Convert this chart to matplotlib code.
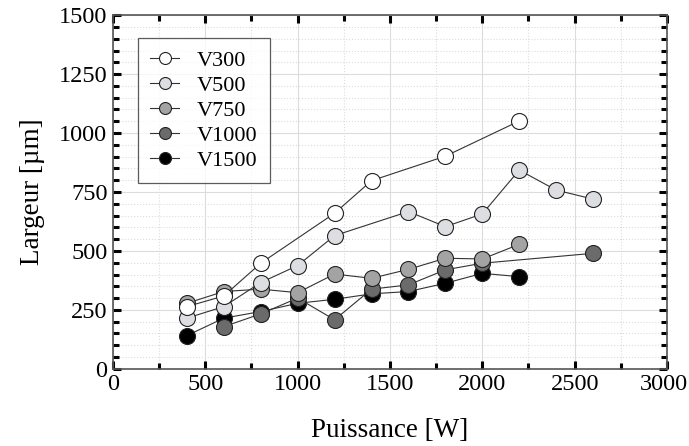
import matplotlib
matplotlib.use("Agg")
import matplotlib.pyplot as plt
from matplotlib.ticker import MultipleLocator, FuncFormatter

plt.rcParams['font.family'] = ['Liberation Serif', 'DejaVu Serif']

# Data
v300_x = [400, 600, 800, 1200, 1400, 1800, 2200]
v300_y = [264, 309, 448, 660, 798, 902, 1051]

v500_x = [400, 600, 800, 1000, 1200, 1600, 1800, 2000, 2200, 2400, 2600]
v500_y = [215, 264, 366, 438, 565, 667, 603, 657, 843, 758, 720]

v750_x = [400, 600, 800, 1000, 1200, 1400, 1600, 1800, 2000, 2200]
v750_y = [278, 328, 338, 323, 402, 384, 422, 469, 466, 528]

v1000_x = [600, 800, 1000, 1200, 1400, 1600, 1800, 2000, 2600]
v1000_y = [179, 233, 300, 208, 338, 356, 420, 448, 490]

v1500_x = [400, 600, 800, 1000, 1200, 1400, 1600, 1800, 2000, 2200]
v1500_y = [141, 215, 243, 278, 295, 318, 328, 363, 405, 391]

labels = ["V300", "V500", "V750", "V1000", "V1500"]
colors = ["#ffffff", "#dcdee2", "#a3a3a3", "#6b6b6b", "#000000"]
x_max = 3000

fig = plt.figure(figsize=(6.89, 4.46), dpi=100)
ax = fig.add_axes([0.164, 0.173, 0.804, 0.793])

series = [(v300_x, v300_y), (v500_x, v500_y), (v750_x, v750_y),
          (v1000_x, v1000_y), (v1500_x, v1500_y)]
zorders = [7, 6, 5, 4, 3]
for (xs, ys), lab, c, z in zip(series, labels, colors, zorders):
    ax.plot(xs, ys, '-o', color='#333333', lw=0.8, marker='o', markersize=11.5,
            markerfacecolor=c, markeredgecolor='#222222', markeredgewidth=0.8,
            label=lab, zorder=z)

ax.set_xlim(0, x_max)
ax.set_ylim(0, 1500)
ax.xaxis.set_major_locator(MultipleLocator(500))
ax.xaxis.set_minor_locator(MultipleLocator(250))
ax.yaxis.set_major_locator(MultipleLocator(250))
ax.yaxis.set_minor_locator(MultipleLocator(50))
# last x tick label drawn separately so it stays inside the figure
ax.xaxis.set_major_formatter(FuncFormatter(lambda v, p: '' if v >= x_max else f'{v:.0f}'))

ax.grid(which='major', color='#dcdcdc', lw=0.8, ls='-', zorder=0)
ax.grid(which='minor', color='#dcdcdc', lw=0.8, ls=':', zorder=0)
ax.set_axisbelow(True)

ax.tick_params(which='major', direction='in', length=6, width=2.2,
               top=True, right=True, labelsize=17.5, pad=4, color='black')
ax.tick_params(which='minor', direction='in', length=4, width=2.2,
               top=True, right=True, color='black')
for s in ax.spines.values():
    s.set_color('#555555')
    s.set_linewidth(1.2)

ax.annotate(f'{x_max}', xy=(x_max, 0), xycoords='data', xytext=(15, -4),
            textcoords='offset points', ha='right', va='top', fontsize=17.5,
            annotation_clip=False)

ax.set_xlabel('Puissance [W]', fontsize=19.5, labelpad=16)
ax.set_ylabel('Largeur [µm]', fontsize=19.5, labelpad=10)

leg = ax.legend(loc='upper left', bbox_to_anchor=(0.045, 0.935), borderaxespad=0,
                fontsize=16, frameon=True, fancybox=False, edgecolor='#333333',
                handlelength=1.3, handletextpad=0.8, labelspacing=0.2,
                borderpad=0.55, markerscale=0.75)
leg.get_frame().set_linewidth(0.9)

fig.savefig('out.png', dpi=100)
